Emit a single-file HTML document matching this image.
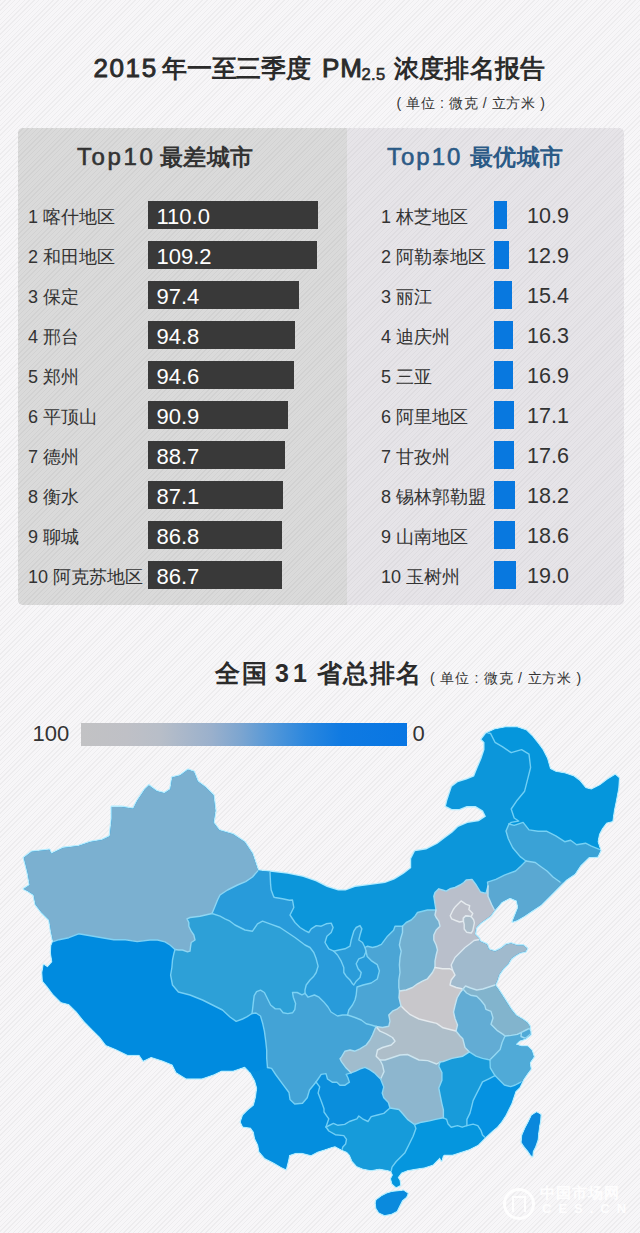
<!DOCTYPE html>
<html><head><meta charset="utf-8">
<style>
*{margin:0;padding:0;box-sizing:border-box}
html,body{width:640px;height:1233px;overflow:hidden}
body{position:relative;font-family:"Liberation Sans",sans-serif;color:#333;
background-color:#f7f6f8;
background-image:repeating-linear-gradient(135deg,rgba(0,0,0,0.04) 0 1px,rgba(0,0,0,0) 1px 3.4px);}
.abs{position:absolute;white-space:nowrap}
.t1{font-size:26px;font-weight:bold;line-height:30px;color:#2b2b2b;top:53px}
#unit1{left:396.5px;top:94px;font-size:14px;line-height:18px;color:#333;letter-spacing:0.62px}
#panel{left:18px;top:128px;width:606px;height:477px;border-radius:5px;overflow:hidden;background-color:#e6e4e8;background-image:repeating-linear-gradient(135deg,rgba(0,0,0,0.035) 0 1px,rgba(0,0,0,0) 1px 3.4px)}
#pl{left:0;top:0;width:329px;height:477px;background-color:#dadada;background-image:repeating-linear-gradient(135deg,rgba(0,0,0,0.04) 0 1px,rgba(0,0,0,0) 1px 3.4px)}
.hd{font-size:24px;font-weight:bold;line-height:28px;top:142.5px}
.lab{font-size:18px;line-height:28px;color:#333;margin-top:2px}
.bar{height:28px;background:#393939}
.bv{font-size:22px;line-height:28px;color:#fff;padding-left:8.5px;margin-top:2px}
.bb{height:28px;background:#0878df}
.rv{font-size:21.5px;line-height:28px;color:#333;margin-top:0.5px}
.t2{top:659px;font-size:25px;font-weight:bold;line-height:28px;color:#2b2b2b}
#unit2{left:430px;top:669px;font-size:14px;line-height:18px;color:#333;letter-spacing:0.8px}
#grad{left:81px;top:722.5px;width:326px;height:23px;background:linear-gradient(to right,#c2c2c4 0%,#bfc0c6 14%,#b8bec8 24%,#9ab0cc 40%,#7ca5d0 49%,#5598d8 58%,#2b87de 69%,#0f7ae2 80%,#0876e3 100%)}
.lg{font-size:22px;line-height:24px;color:#333}
.c{display:inline-block;text-align:left;letter-spacing:0}
</style></head><body>
<div class="abs t1" style="left:93.5px;letter-spacing:1.6px;font-weight:normal;-webkit-text-stroke:0.9px #2b2b2b">2015</div>
<div class="abs t1" style="left:162px;font-size:25px;letter-spacing:-0.2px"><span class="c" style="width:calc(1em + -0.2px)">年</span><span class="c" style="width:calc(1em + -0.2px)">一</span><span class="c" style="width:calc(1em + -0.2px)">至</span><span class="c" style="width:calc(1em + -0.2px)">三</span><span class="c" style="width:calc(1em + -0.2px)">季</span><span class="c" style="width:calc(1em + -0.2px)">度</span></div>
<div class="abs t1" style="left:322px;letter-spacing:1px;font-weight:normal;-webkit-text-stroke:0.9px #2b2b2b">PM</div>
<div class="abs t1" style="left:361.5px;font-size:16.5px;top:59px;font-weight:normal;-webkit-text-stroke:0.6px #2b2b2b;letter-spacing:0.4px">2.5</div>
<div class="abs t1" style="left:394px;font-size:25px;letter-spacing:0.2px"><span class="c" style="width:calc(1em + 0.2px)">浓</span><span class="c" style="width:calc(1em + 0.2px)">度</span><span class="c" style="width:calc(1em + 0.2px)">排</span><span class="c" style="width:calc(1em + 0.2px)">名</span><span class="c" style="width:calc(1em + 0.2px)">报</span><span class="c" style="width:calc(1em + 0.2px)">告</span></div>
<div class="abs" id="unit1">( <span class="c" style="width:calc(1em + 0.62px)">单</span><span class="c" style="width:calc(1em + 0.62px)">位</span> : <span class="c" style="width:calc(1em + 0.62px)">微</span><span class="c" style="width:calc(1em + 0.62px)">克</span> / <span class="c" style="width:calc(1em + 0.62px)">立</span><span class="c" style="width:calc(1em + 0.62px)">方</span><span class="c" style="width:calc(1em + 0.62px)">米</span> )</div>

<div class="abs" id="panel">
  <div class="abs" id="pl"></div>
</div>

<div class="abs hd" style="left:77px;color:#333;letter-spacing:2.6px;font-weight:normal;-webkit-text-stroke:0.6px #333">Top10</div><div class="abs hd" style="left:160px;color:#333;font-size:23px;letter-spacing:0.3px"><span class="c" style="width:calc(1em + 0.3px)">最</span><span class="c" style="width:calc(1em + 0.3px)">差</span><span class="c" style="width:calc(1em + 0.3px)">城</span><span class="c" style="width:calc(1em + 0.3px)">市</span></div>
<div class="abs hd" style="left:387px;color:#2b5a86;letter-spacing:2px;font-weight:normal;-webkit-text-stroke:0.6px #2b5a86">Top10</div><div class="abs hd" style="left:470px;color:#2b5a86;font-size:23px;letter-spacing:0.3px"><span class="c" style="width:calc(1em + 0.3px)">最</span><span class="c" style="width:calc(1em + 0.3px)">优</span><span class="c" style="width:calc(1em + 0.3px)">城</span><span class="c" style="width:calc(1em + 0.3px)">市</span></div>

<!--ROWS-->
<div class="abs lab" style="left:28px;top:201.0px">1 <span class="c" style="width:1em">喀</span><span class="c" style="width:1em">什</span><span class="c" style="width:1em">地</span><span class="c" style="width:1em">区</span></div>
<div class="abs bar" style="left:148px;top:201.0px;width:169.9px"><div class="bv">110.0</div></div>
<div class="abs lab" style="left:381px;top:201.0px">1 <span class="c" style="width:1em">林</span><span class="c" style="width:1em">芝</span><span class="c" style="width:1em">地</span><span class="c" style="width:1em">区</span></div>
<div class="abs bb" style="left:494px;top:201.0px;width:12.5px"></div>
<div class="abs rv" style="left:527px;top:201.0px">10.9</div>
<div class="abs lab" style="left:28px;top:241.0px">2 <span class="c" style="width:1em">和</span><span class="c" style="width:1em">田</span><span class="c" style="width:1em">地</span><span class="c" style="width:1em">区</span></div>
<div class="abs bar" style="left:148px;top:241.0px;width:168.7px"><div class="bv">109.2</div></div>
<div class="abs lab" style="left:381px;top:241.0px">2 <span class="c" style="width:1em">阿</span><span class="c" style="width:1em">勒</span><span class="c" style="width:1em">泰</span><span class="c" style="width:1em">地</span><span class="c" style="width:1em">区</span></div>
<div class="abs bb" style="left:494px;top:241.0px;width:14.8px"></div>
<div class="abs rv" style="left:527px;top:241.0px">12.9</div>
<div class="abs lab" style="left:28px;top:281.0px">3 <span class="c" style="width:1em">保</span><span class="c" style="width:1em">定</span></div>
<div class="abs bar" style="left:148px;top:281.0px;width:150.5px"><div class="bv">97.4</div></div>
<div class="abs lab" style="left:381px;top:281.0px">3 <span class="c" style="width:1em">丽</span><span class="c" style="width:1em">江</span></div>
<div class="abs bb" style="left:494px;top:281.0px;width:17.7px"></div>
<div class="abs rv" style="left:527px;top:281.0px">15.4</div>
<div class="abs lab" style="left:28px;top:321.0px">4 <span class="c" style="width:1em">邢</span><span class="c" style="width:1em">台</span></div>
<div class="abs bar" style="left:148px;top:321.0px;width:146.5px"><div class="bv">94.8</div></div>
<div class="abs lab" style="left:381px;top:321.0px">4 <span class="c" style="width:1em">迪</span><span class="c" style="width:1em">庆</span><span class="c" style="width:1em">州</span></div>
<div class="abs bb" style="left:494px;top:321.0px;width:18.7px"></div>
<div class="abs rv" style="left:527px;top:321.0px">16.3</div>
<div class="abs lab" style="left:28px;top:361.0px">5 <span class="c" style="width:1em">郑</span><span class="c" style="width:1em">州</span></div>
<div class="abs bar" style="left:148px;top:361.0px;width:146.2px"><div class="bv">94.6</div></div>
<div class="abs lab" style="left:381px;top:361.0px">5 <span class="c" style="width:1em">三</span><span class="c" style="width:1em">亚</span></div>
<div class="abs bb" style="left:494px;top:361.0px;width:19.4px"></div>
<div class="abs rv" style="left:527px;top:361.0px">16.9</div>
<div class="abs lab" style="left:28px;top:401.0px">6 <span class="c" style="width:1em">平</span><span class="c" style="width:1em">顶</span><span class="c" style="width:1em">山</span></div>
<div class="abs bar" style="left:148px;top:401.0px;width:140.4px"><div class="bv">90.9</div></div>
<div class="abs lab" style="left:381px;top:401.0px">6 <span class="c" style="width:1em">阿</span><span class="c" style="width:1em">里</span><span class="c" style="width:1em">地</span><span class="c" style="width:1em">区</span></div>
<div class="abs bb" style="left:494px;top:401.0px;width:19.7px"></div>
<div class="abs rv" style="left:527px;top:401.0px">17.1</div>
<div class="abs lab" style="left:28px;top:441.0px">7 <span class="c" style="width:1em">德</span><span class="c" style="width:1em">州</span></div>
<div class="abs bar" style="left:148px;top:441.0px;width:137.0px"><div class="bv">88.7</div></div>
<div class="abs lab" style="left:381px;top:441.0px">7 <span class="c" style="width:1em">甘</span><span class="c" style="width:1em">孜</span><span class="c" style="width:1em">州</span></div>
<div class="abs bb" style="left:494px;top:441.0px;width:20.2px"></div>
<div class="abs rv" style="left:527px;top:441.0px">17.6</div>
<div class="abs lab" style="left:28px;top:481.0px">8 <span class="c" style="width:1em">衡</span><span class="c" style="width:1em">水</span></div>
<div class="abs bar" style="left:148px;top:481.0px;width:134.6px"><div class="bv">87.1</div></div>
<div class="abs lab" style="left:381px;top:481.0px">8 <span class="c" style="width:1em">锡</span><span class="c" style="width:1em">林</span><span class="c" style="width:1em">郭</span><span class="c" style="width:1em">勒</span><span class="c" style="width:1em">盟</span></div>
<div class="abs bb" style="left:494px;top:481.0px;width:20.9px"></div>
<div class="abs rv" style="left:527px;top:481.0px">18.2</div>
<div class="abs lab" style="left:28px;top:521.0px">9 <span class="c" style="width:1em">聊</span><span class="c" style="width:1em">城</span></div>
<div class="abs bar" style="left:148px;top:521.0px;width:134.1px"><div class="bv">86.8</div></div>
<div class="abs lab" style="left:381px;top:521.0px">9 <span class="c" style="width:1em">山</span><span class="c" style="width:1em">南</span><span class="c" style="width:1em">地</span><span class="c" style="width:1em">区</span></div>
<div class="abs bb" style="left:494px;top:521.0px;width:21.4px"></div>
<div class="abs rv" style="left:527px;top:521.0px">18.6</div>
<div class="abs lab" style="left:28px;top:561.0px">10 <span class="c" style="width:1em">阿</span><span class="c" style="width:1em">克</span><span class="c" style="width:1em">苏</span><span class="c" style="width:1em">地</span><span class="c" style="width:1em">区</span></div>
<div class="abs bar" style="left:148px;top:561.0px;width:134.0px"><div class="bv">86.7</div></div>
<div class="abs lab" style="left:381px;top:561.0px">10 <span class="c" style="width:1em">玉</span><span class="c" style="width:1em">树</span><span class="c" style="width:1em">州</span></div>
<div class="abs bb" style="left:494px;top:561.0px;width:21.8px"></div>
<div class="abs rv" style="left:527px;top:561.0px">19.0</div>
<!--/ROWS-->

<div class="abs t2" style="left:214.5px;letter-spacing:2px"><span class="c" style="width:calc(1em + 2.0px)">全</span><span class="c" style="width:calc(1em + 2.0px)">国</span></div><div class="abs t2" style="left:275px;letter-spacing:4px">31</div><div class="abs t2" style="left:316.5px;letter-spacing:1.6px"><span class="c" style="width:calc(1em + 1.6px)">省</span><span class="c" style="width:calc(1em + 1.6px)">总</span><span class="c" style="width:calc(1em + 1.6px)">排</span><span class="c" style="width:calc(1em + 1.6px)">名</span></div>
<div class="abs" id="unit2">( <span class="c" style="width:calc(1em + 0.8px)">单</span><span class="c" style="width:calc(1em + 0.8px)">位</span> : <span class="c" style="width:calc(1em + 0.8px)">微</span><span class="c" style="width:calc(1em + 0.8px)">克</span> / <span class="c" style="width:calc(1em + 0.8px)">立</span><span class="c" style="width:calc(1em + 0.8px)">方</span><span class="c" style="width:calc(1em + 0.8px)">米</span> )</div>
<div class="abs lg" style="left:32.5px;top:721.5px">100</div>
<div class="abs" id="grad"></div>
<div class="abs lg" style="left:412.5px;top:721.5px">0</div>

<svg class="abs" id="map" style="left:0;top:0" width="640" height="1233" viewBox="0 0 640 1233">
<defs><clipPath id="cn"><path d="M23.9,857.7 L31.7,851.8 L49.3,849.8 L51.2,853.8 L63.0,847.9 L78.6,846.0 L90.3,842.0 L102.0,840.0 L109.8,836.2 L111.8,818.6 L111.8,806.9 L121.6,806.9 L133.3,808.8 L137.2,801.0 L145.0,789.3 L148.9,785.4 L156.7,791.2 L164.5,793.2 L170.4,789.3 L172.3,777.6 L180.2,775.6 L188.0,769.8 L193.8,771.7 L197.7,781.5 L205.5,787.3 L213.4,795.2 L215.3,810.8 L213.4,822.5 L219.2,830.3 L232.9,834.2 L244.6,842.0 L252.4,853.8 L256.3,865.5 L258.0,870.6 L272.5,871.9 L287.5,873.8 L302.5,876.8 L315.6,881.2 L326.9,886.9 L338.1,890.6 L345.6,890.6 L355.0,886.9 L370.0,885.0 L385.0,883.1 L394.4,879.4 L403.8,873.8 L411.2,868.1 L411.2,858.8 L415.0,851.2 L426.2,849.4 L437.5,843.8 L445.0,838.1 L452.5,832.5 L458.1,826.9 L467.5,823.1 L478.8,821.2 L486.0,816.5 L483.0,810.6 L475.6,806.1 L466.7,806.1 L459.3,809.0 L451.9,809.0 L446.0,806.1 L447.4,800.2 L451.9,786.8 L457.8,782.3 L466.7,779.4 L474.1,776.4 L477.1,769.0 L481.6,758.6 L484.5,749.7 L484.5,742.3 L481.6,739.3 L486.0,733.4 L494.9,729.5 L505.3,727.4 L517.2,727.4 L526.1,730.4 L532.0,736.3 L538.0,743.8 L542.4,749.7 L546.9,758.6 L549.9,769.0 L555.8,772.0 L564.7,773.4 L573.6,776.4 L579.5,780.9 L585.5,788.3 L591.4,789.8 L600.3,785.3 L607.8,779.4 L615.2,774.9 L618.7,777.9 L618.1,788.3 L615.8,800.2 L613.7,810.6 L612.2,821.0 L606.3,822.4 L601.8,828.4 L598.8,834.3 L597.4,841.7 L600.3,850.6 L597.4,856.6 L588.8,856.9 L580.3,865.3 L574.7,873.8 L566.2,879.4 L557.8,887.8 L549.4,896.2 L540.9,904.7 L532.5,910.3 L524.0,915.9 L517.0,920.1 L512.8,921.5 L518.4,907.5 L517.0,900.5 L510.0,897.6 L501.6,901.9 L494.5,910.3 L490.3,916.0 L480.5,923.0 L476.2,927.2 L474.8,934.2 L479.0,938.4 L479.8,941.3 L486.9,944.4 L488.9,949.5 L495.0,951.5 L501.1,948.4 L506.2,944.4 L511.2,943.4 L517.3,945.4 L523.4,945.4 L527.1,948.4 L525.5,951.5 L520.4,952.5 L515.3,955.5 L511.2,958.6 L508.2,963.7 L503.1,968.8 L499.0,974.8 L497.0,980.9 L495.0,985.0 L498.0,989.0 L502.1,995.2 L507.2,1003.3 L511.2,1009.4 L516.0,1015.5 L522.0,1019.0 L527.0,1022.5 L529.5,1026.0 L530.5,1034.4 L525.5,1038.4 L519.4,1040.5 L515.3,1044.5 L521.4,1046.6 L527.5,1046.6 L531.6,1050.6 L533.6,1056.7 L529.5,1062.8 L530.5,1068.9 L527.5,1073.0 L523.4,1079.0 L519.4,1087.2 L515.3,1091.2 L513.3,1097.3 L511.2,1103.4 L508.2,1109.5 L505.2,1115.6 L501.1,1121.7 L497.0,1126.8 L493.0,1130.0 L486.2,1136.2 L477.8,1144.7 L469.4,1148.9 L460.9,1151.7 L452.5,1154.5 L444.0,1154.5 L442.6,1156.0 L441.5,1160.5 L440.0,1157.5 L439.8,1157.3 L432.8,1164.4 L424.4,1167.2 L415.9,1168.6 L407.5,1170.0 L401.2,1172.5 L397.5,1177.5 L399.4,1180.6 L400.0,1185.0 L396.2,1186.9 L392.5,1183.8 L391.2,1178.8 L393.1,1175.0 L391.2,1171.0 L387.8,1170.0 L379.4,1168.6 L370.9,1170.0 L363.0,1168.5 L356.9,1166.0 L352.5,1161.0 L350.0,1155.0 L347.0,1151.7 L341.6,1149.4 L335.0,1146.1 L330.6,1147.2 L324.0,1149.4 L317.5,1151.6 L311.0,1154.9 L302.2,1152.7 L295.6,1152.7 L289.0,1154.9 L288.0,1160.3 L285.8,1169.1 L281.4,1166.9 L273.8,1162.5 L265.0,1158.1 L259.5,1151.6 L258.4,1145.0 L255.2,1138.4 L254.0,1131.9 L250.8,1127.5 L243.1,1126.4 L240.9,1122.0 L243.1,1115.5 L247.5,1111.1 L254.0,1105.6 L256.2,1096.9 L257.3,1088.1 L255.2,1080.5 L250.8,1072.8 L244.8,1066.5 L233.1,1070.4 L221.4,1070.4 L213.6,1074.3 L201.9,1078.2 L186.2,1078.2 L176.5,1072.3 L172.6,1064.5 L162.8,1060.6 L151.1,1056.7 L143.3,1060.6 L139.4,1054.8 L127.7,1054.8 L115.9,1048.9 L106.2,1045.0 L100.3,1037.2 L92.5,1029.4 L84.7,1021.6 L76.9,1011.8 L69.0,1004.0 L61.2,1002.0 L53.4,994.2 L47.6,986.4 L43.0,981.0 L42.5,972.5 L43.8,965.0 L47.5,967.5 L52.5,962.0 L51.0,952.5 L51.5,945.4 L53.2,941.6 L51.2,931.9 L49.3,920.0 L41.5,912.3 L35.6,904.5 L33.7,894.8 L27.8,890.9 L23.9,888.9 L29.8,885.0 L27.8,873.3 L25.9,865.5Z M376.4,1200.2 L381.8,1196.2 L387.2,1193.5 L392.6,1192.1 L398.0,1191.5 L403.4,1190.8 L407.5,1193.5 L406.1,1196.9 L402.1,1200.2 L399.4,1205.6 L396.7,1211.0 L391.3,1213.7 L384.5,1215.1 L379.1,1212.4 L376.4,1208.3 L375.8,1202.9Z M536.6,1112.5 L540.5,1114.8 L540.1,1120.3 L538.9,1126.6 L538.1,1132.8 L537.3,1140.6 L535.0,1146.9 L532.7,1151.6 L532.3,1156.2 L530.7,1154.7 L528.0,1150.8 L524.1,1146.1 L521.7,1142.2 L522.5,1135.2 L525.6,1128.1 L528.8,1121.9 L531.9,1115.6Z"/></clipPath></defs>
<path d="M23.9,857.7 L31.7,851.8 L49.3,849.8 L51.2,853.8 L63.0,847.9 L78.6,846.0 L90.3,842.0 L102.0,840.0 L109.8,836.2 L111.8,818.6 L111.8,806.9 L121.6,806.9 L133.3,808.8 L137.2,801.0 L145.0,789.3 L148.9,785.4 L156.7,791.2 L164.5,793.2 L170.4,789.3 L172.3,777.6 L180.2,775.6 L188.0,769.8 L193.8,771.7 L197.7,781.5 L205.5,787.3 L213.4,795.2 L215.3,810.8 L213.4,822.5 L219.2,830.3 L232.9,834.2 L244.6,842.0 L252.4,853.8 L256.3,865.5 L258.0,870.6 L272.5,871.9 L287.5,873.8 L302.5,876.8 L315.6,881.2 L326.9,886.9 L338.1,890.6 L345.6,890.6 L355.0,886.9 L370.0,885.0 L385.0,883.1 L394.4,879.4 L403.8,873.8 L411.2,868.1 L411.2,858.8 L415.0,851.2 L426.2,849.4 L437.5,843.8 L445.0,838.1 L452.5,832.5 L458.1,826.9 L467.5,823.1 L478.8,821.2 L486.0,816.5 L483.0,810.6 L475.6,806.1 L466.7,806.1 L459.3,809.0 L451.9,809.0 L446.0,806.1 L447.4,800.2 L451.9,786.8 L457.8,782.3 L466.7,779.4 L474.1,776.4 L477.1,769.0 L481.6,758.6 L484.5,749.7 L484.5,742.3 L481.6,739.3 L486.0,733.4 L494.9,729.5 L505.3,727.4 L517.2,727.4 L526.1,730.4 L532.0,736.3 L538.0,743.8 L542.4,749.7 L546.9,758.6 L549.9,769.0 L555.8,772.0 L564.7,773.4 L573.6,776.4 L579.5,780.9 L585.5,788.3 L591.4,789.8 L600.3,785.3 L607.8,779.4 L615.2,774.9 L618.7,777.9 L618.1,788.3 L615.8,800.2 L613.7,810.6 L612.2,821.0 L606.3,822.4 L601.8,828.4 L598.8,834.3 L597.4,841.7 L600.3,850.6 L597.4,856.6 L588.8,856.9 L580.3,865.3 L574.7,873.8 L566.2,879.4 L557.8,887.8 L549.4,896.2 L540.9,904.7 L532.5,910.3 L524.0,915.9 L517.0,920.1 L512.8,921.5 L518.4,907.5 L517.0,900.5 L510.0,897.6 L501.6,901.9 L494.5,910.3 L490.3,916.0 L480.5,923.0 L476.2,927.2 L474.8,934.2 L479.0,938.4 L479.8,941.3 L486.9,944.4 L488.9,949.5 L495.0,951.5 L501.1,948.4 L506.2,944.4 L511.2,943.4 L517.3,945.4 L523.4,945.4 L527.1,948.4 L525.5,951.5 L520.4,952.5 L515.3,955.5 L511.2,958.6 L508.2,963.7 L503.1,968.8 L499.0,974.8 L497.0,980.9 L495.0,985.0 L498.0,989.0 L502.1,995.2 L507.2,1003.3 L511.2,1009.4 L516.0,1015.5 L522.0,1019.0 L527.0,1022.5 L529.5,1026.0 L530.5,1034.4 L525.5,1038.4 L519.4,1040.5 L515.3,1044.5 L521.4,1046.6 L527.5,1046.6 L531.6,1050.6 L533.6,1056.7 L529.5,1062.8 L530.5,1068.9 L527.5,1073.0 L523.4,1079.0 L519.4,1087.2 L515.3,1091.2 L513.3,1097.3 L511.2,1103.4 L508.2,1109.5 L505.2,1115.6 L501.1,1121.7 L497.0,1126.8 L493.0,1130.0 L486.2,1136.2 L477.8,1144.7 L469.4,1148.9 L460.9,1151.7 L452.5,1154.5 L444.0,1154.5 L442.6,1156.0 L441.5,1160.5 L440.0,1157.5 L439.8,1157.3 L432.8,1164.4 L424.4,1167.2 L415.9,1168.6 L407.5,1170.0 L401.2,1172.5 L397.5,1177.5 L399.4,1180.6 L400.0,1185.0 L396.2,1186.9 L392.5,1183.8 L391.2,1178.8 L393.1,1175.0 L391.2,1171.0 L387.8,1170.0 L379.4,1168.6 L370.9,1170.0 L363.0,1168.5 L356.9,1166.0 L352.5,1161.0 L350.0,1155.0 L347.0,1151.7 L341.6,1149.4 L335.0,1146.1 L330.6,1147.2 L324.0,1149.4 L317.5,1151.6 L311.0,1154.9 L302.2,1152.7 L295.6,1152.7 L289.0,1154.9 L288.0,1160.3 L285.8,1169.1 L281.4,1166.9 L273.8,1162.5 L265.0,1158.1 L259.5,1151.6 L258.4,1145.0 L255.2,1138.4 L254.0,1131.9 L250.8,1127.5 L243.1,1126.4 L240.9,1122.0 L243.1,1115.5 L247.5,1111.1 L254.0,1105.6 L256.2,1096.9 L257.3,1088.1 L255.2,1080.5 L250.8,1072.8 L244.8,1066.5 L233.1,1070.4 L221.4,1070.4 L213.6,1074.3 L201.9,1078.2 L186.2,1078.2 L176.5,1072.3 L172.6,1064.5 L162.8,1060.6 L151.1,1056.7 L143.3,1060.6 L139.4,1054.8 L127.7,1054.8 L115.9,1048.9 L106.2,1045.0 L100.3,1037.2 L92.5,1029.4 L84.7,1021.6 L76.9,1011.8 L69.0,1004.0 L61.2,1002.0 L53.4,994.2 L47.6,986.4 L43.0,981.0 L42.5,972.5 L43.8,965.0 L47.5,967.5 L52.5,962.0 L51.0,952.5 L51.5,945.4 L53.2,941.6 L51.2,931.9 L49.3,920.0 L41.5,912.3 L35.6,904.5 L33.7,894.8 L27.8,890.9 L23.9,888.9 L29.8,885.0 L27.8,873.3 L25.9,865.5Z M376.4,1200.2 L381.8,1196.2 L387.2,1193.5 L392.6,1192.1 L398.0,1191.5 L403.4,1190.8 L407.5,1193.5 L406.1,1196.9 L402.1,1200.2 L399.4,1205.6 L396.7,1211.0 L391.3,1213.7 L384.5,1215.1 L379.1,1212.4 L376.4,1208.3 L375.8,1202.9Z M536.6,1112.5 L540.5,1114.8 L540.1,1120.3 L538.9,1126.6 L538.1,1132.8 L537.3,1140.6 L535.0,1146.9 L532.7,1151.6 L532.3,1156.2 L530.7,1154.7 L528.0,1150.8 L524.1,1146.1 L521.7,1142.2 L522.5,1135.2 L525.6,1128.1 L528.8,1121.9 L531.9,1115.6Z" fill="none" stroke="#b4ecff" stroke-width="2.6" stroke-linejoin="round"/>
<g clip-path="url(#cn)"><rect x="0" y="700" width="640" height="533" fill="#0c96da"/>
<polygon points="0.0,941.6 0.0,700.0 258.0,700.0 258.0,870.6 252.5,877.0 245.6,881.6 237.5,885.0 227.5,890.0 220.0,895.0 217.5,900.0 215.0,906.2 212.0,913.5 200.0,916.2 190.0,917.5 186.9,918.8 188.8,922.5 188.8,926.2 191.2,931.2 193.8,935.0 195.0,940.0 191.2,942.5 190.6,946.2 190.0,951.2 187.5,951.9 182.5,950.0 178.8,950.0 175.0,949.5 170.0,945.0 165.0,941.9 157.5,940.0 150.0,940.0 137.2,941.6 125.5,939.7 113.8,939.7 102.0,937.7 90.3,935.8 78.6,933.8 68.8,937.7 59.0,939.7 53.2,941.6" fill="#7bb0d0"/>
<polygon points="53.2,941.6 59.0,939.7 68.8,937.7 78.6,933.8 90.3,935.8 102.0,937.7 113.8,939.7 125.5,939.7 137.2,941.6 150.0,940.0 157.5,940.0 165.0,941.9 170.0,945.0 175.0,949.5 173.8,953.8 172.5,960.0 171.9,967.5 170.6,975.0 172.5,985.0 178.4,992.0 190.0,995.0 202.5,1000.0 212.5,1005.0 222.5,1010.0 230.0,1017.0 236.2,1021.4 242.5,1019.0 247.2,1016.7 252.0,1013.5 256.0,1013.0 260.5,1016.0 262.8,1023.8 264.4,1031.2 265.9,1042.5 266.7,1050.3 266.7,1058.1 267.5,1067.5 262.0,1070.0 256.0,1072.0 250.0,1071.0 250.0,1090.0 0.0,1090.0 0.0,941.6" fill="#008bdf"/>
<polygon points="175.0,949.5 178.8,950.0 182.5,950.0 187.5,951.9 190.0,951.2 190.6,946.2 191.2,942.5 195.0,940.0 193.8,935.0 191.2,931.2 188.8,926.2 188.8,922.5 186.9,918.8 190.0,917.5 200.0,916.2 212.0,913.5 220.0,916.2 225.0,918.8 230.0,921.2 235.0,925.0 245.0,930.0 252.5,931.2 257.5,923.8 262.5,921.2 270.0,923.8 280.0,927.5 287.5,932.5 295.0,937.5 300.0,941.2 305.0,945.0 310.0,947.5 313.8,952.5 316.2,958.8 318.1,966.2 316.2,972.5 313.8,976.2 310.0,980.0 306.2,985.0 305.0,990.0 305.0,993.3 301.9,994.8 297.2,992.5 292.5,992.5 293.3,997.2 295.6,1003.4 294.8,1009.7 292.5,1012.8 287.8,1013.6 283.1,1012.8 280.0,1008.9 275.3,1008.9 270.6,1005.0 267.5,998.8 264.4,992.5 260.5,990.2 256.6,991.7 254.2,995.6 253.4,1001.9 252.7,1008.1 252.0,1013.5 247.2,1016.7 242.5,1019.0 236.2,1021.4 230.0,1017.0 222.5,1010.0 212.5,1005.0 202.5,1000.0 190.0,995.0 178.4,992.0 172.5,985.0 170.6,975.0 171.9,967.5 172.5,960.0 173.8,953.8 175.0,949.5" fill="#2da0d7"/>
<polygon points="258.0,870.6 258.0,860.0 270.0,860.0 270.0,872.0 270.6,884.7 271.2,890.0 273.8,897.0 275.0,897.5 282.5,898.8 289.4,900.3 292.5,900.0 293.8,907.5 290.0,915.0 295.0,922.5 300.0,927.5 305.0,930.6 308.8,932.5 311.2,928.8 316.2,925.6 321.2,926.2 326.2,923.8 331.2,923.1 333.1,927.5 331.2,932.5 326.9,936.2 325.0,942.5 328.8,948.8 333.8,951.2 337.5,955.0 341.2,961.2 343.8,967.5 343.8,972.5 346.2,976.2 350.0,980.0 352.5,983.8 353.8,985.0 356.2,981.2 360.0,977.5 361.2,972.5 358.1,968.8 356.2,963.8 358.8,958.8 363.8,956.9 365.6,952.5 366.0,951.0 367.2,956.6 371.2,960.6 377.3,964.7 379.4,970.8 377.3,979.0 371.2,983.0 363.1,985.0 357.0,987.0 356.2,995.0 355.0,1000.0 352.5,1005.0 348.8,1010.0 347.5,1015.0 342.5,1015.0 337.5,1016.0 331.0,1012.0 328.0,1007.0 323.8,1001.9 319.0,997.2 314.4,995.0 308.1,997.2 305.0,993.3 305.0,990.0 306.2,985.0 310.0,980.0 313.8,976.2 316.2,972.5 318.1,966.2 316.2,958.8 313.8,952.5 310.0,947.5 305.0,945.0 300.0,941.2 295.0,937.5 287.5,932.5 280.0,927.5 270.0,923.8 262.5,921.2 257.5,923.8 252.5,931.2 245.0,930.0 235.0,925.0 230.0,921.2 225.0,918.8 220.0,916.2 212.0,913.5 215.0,906.2 217.5,900.0 220.0,895.0 227.5,890.0 237.5,885.0 245.6,881.6 252.5,877.0 258.0,870.6" fill="#289bda"/>
<polygon points="333.8,951.2 338.8,950.0 345.0,948.8 350.0,946.2 351.2,940.0 353.8,931.2 356.2,927.5 360.0,925.6 361.9,928.8 360.0,935.0 358.8,940.0 362.5,942.5 365.0,947.5 366.0,951.0 365.6,952.5 363.8,956.9 358.8,958.8 356.2,963.8 358.1,968.8 361.2,972.5 360.0,977.5 356.2,981.2 353.8,985.0 352.5,983.8 350.0,980.0 346.2,976.2 343.8,972.5 343.8,967.5 341.2,961.2 337.5,955.0 333.8,951.2" fill="#2a9cd9"/>
<polygon points="365.0,947.5 367.5,946.2 372.5,947.5 377.5,946.2 381.4,944.4 387.5,936.2 393.6,930.2 395.0,926.2 400.0,926.2 402.5,926.2 402.5,932.5 400.6,938.8 399.4,945.0 401.2,951.2 400.0,957.5 399.4,965.0 400.0,972.5 398.8,980.0 398.8,987.5 399.5,991.0 399.0,997.5 401.0,1006.0 397.5,1008.8 392.5,1011.2 388.8,1015.0 390.0,1021.2 388.8,1026.2 382.5,1027.5 376.0,1026.5 371.2,1025.0 366.2,1023.8 361.2,1020.0 355.0,1017.5 347.5,1015.0 348.8,1010.0 352.5,1005.0 355.0,1000.0 356.2,995.0 357.0,987.0 363.1,985.0 371.2,983.0 377.3,979.0 379.4,970.8 377.3,964.7 371.2,960.6 367.2,956.6 366.0,951.0 365.0,947.5" fill="#4ba5d5"/>
<polygon points="402.5,926.2 406.2,922.5 411.2,920.0 415.0,916.2 417.5,912.5 422.5,911.2 427.5,910.0 433.8,910.0 436.0,910.0 435.0,915.0 436.2,917.5 438.8,921.2 440.0,926.2 436.2,930.0 433.8,935.0 433.8,940.0 436.2,945.0 437.5,950.0 436.2,955.0 435.0,961.2 435.0,967.5 432.5,972.5 427.5,978.8 422.5,981.2 417.5,983.8 412.5,987.5 406.2,990.0 399.5,991.0 398.8,987.5 398.8,980.0 400.0,972.5 399.4,965.0 400.0,957.5 401.2,951.2 399.4,945.0 400.6,938.8 402.5,932.5 402.5,926.2" fill="#73b0d0"/>
<polygon points="436.0,910.0 435.0,903.8 433.8,896.2 435.0,892.5 438.8,888.8 442.5,890.0 446.2,891.2 450.0,888.8 455.0,887.5 460.0,885.0 463.8,882.5 466.2,880.0 472.0,879.4 476.2,885.0 480.5,892.0 486.0,893.4 488.0,886.0 488.0,896.2 491.7,904.7 494.5,910.3 500.0,912.0 492.0,925.0 484.0,933.0 483.0,938.0 479.5,939.5 474.0,940.5 470.0,943.8 465.0,947.5 460.0,952.5 455.0,957.5 451.2,965.0 452.5,970.0 450.0,968.8 442.5,968.8 435.0,967.5 435.0,961.2 436.2,955.0 437.5,950.0 436.2,945.0 433.8,940.0 433.8,935.0 436.2,930.0 440.0,926.2 438.8,921.2 436.2,917.5 435.0,915.0 436.0,910.0" fill="#b9bfcb"/>
<polygon points="461.1,900.9 465.8,904.1 469.7,905.6 468.9,909.5 472.8,913.4 471.2,916.6 465.8,915.8 463.4,918.1 463.4,921.2 459.5,922.0 455.6,920.5 451.7,918.9 450.2,915.8 451.7,912.7 453.3,909.5 455.6,906.4 458.8,903.3" fill="#bcc0ca"/>
<polygon points="465.8,915.8 471.2,916.6 473.6,919.7 474.4,922.8 473.6,926.7 472.8,930.6 471.2,933.0 466.6,932.2 464.2,929.0 464.2,924.4 463.4,921.2 463.4,918.1" fill="#a9bcc9"/>
<polygon points="488.0,886.0 487.5,882.2 495.9,879.4 504.4,875.2 515.6,871.0 521.0,866.0 526.0,861.0 535.3,862.5 541.0,866.7 547.0,871.0 553.0,877.0 560.0,882.0 580.0,880.0 560.0,930.0 510.0,930.0 500.0,912.0 494.5,910.3 491.7,904.7 488.0,896.2 488.0,886.0" fill="#5aa8d2"/>
<polygon points="509.0,824.0 514.2,825.4 523.1,822.4 529.0,829.9 538.0,831.3 546.9,831.3 555.8,835.8 564.7,841.7 570.6,840.2 576.6,844.7 585.5,843.2 591.4,846.2 598.8,849.2 603.0,850.6 612.0,862.0 575.0,885.0 560.0,882.0 553.0,877.0 547.0,871.0 541.0,866.7 535.3,862.5 526.0,861.0 520.2,856.6 512.7,847.7 508.3,838.8 506.0,831.0 509.0,824.0" fill="#3aa2d6"/>
<polygon points="488.0,733.0 490.5,733.4 495.0,742.3 502.3,746.7 511.2,752.7 521.6,749.7 529.0,754.1 530.6,767.5 527.6,779.4 524.6,791.2 517.2,800.2 511.2,809.0 514.2,818.0 518.7,821.0 511.2,822.4 509.0,824.0 514.2,825.4 523.1,822.4 529.0,829.9 538.0,831.3 546.9,831.3 555.8,835.8 564.7,841.7 570.6,840.2 576.6,844.7 585.5,843.2 591.4,846.2 598.8,849.2 603.0,850.6 640.0,850.0 640.0,700.0 488.0,700.0" fill="#0596dc"/>
<polygon points="399.5,991.0 406.2,990.0 412.5,987.5 417.5,983.8 422.5,981.2 427.5,978.8 432.5,972.5 435.0,967.5 442.5,968.8 450.0,968.8 452.5,970.0 455.0,975.0 451.2,980.0 450.0,985.0 456.2,987.5 463.0,989.0 460.5,992.0 457.0,998.0 455.0,1005.5 453.5,1012.0 455.0,1018.5 457.5,1025.0 456.0,1031.0 451.9,1030.0 443.1,1027.8 436.6,1023.4 427.8,1021.2 419.0,1019.0 410.3,1014.7 405.0,1010.0 401.0,1006.0 399.0,997.5 399.5,991.0" fill="#c8c7cb"/>
<polygon points="452.5,970.0 451.2,965.0 455.0,957.5 460.0,952.5 465.0,947.5 470.0,943.8 474.0,940.5 479.5,939.5 485.0,937.0 530.0,940.0 540.0,960.0 505.0,985.0 495.0,985.0 488.9,987.0 482.8,989.0 476.7,990.0 470.6,988.0 465.5,986.0 463.0,989.0 456.2,987.5 450.0,985.0 451.2,980.0 455.0,975.0 452.5,970.0" fill="#a0bacd"/>
<polygon points="463.0,989.0 465.5,986.0 470.6,988.0 476.7,990.0 482.8,989.0 488.9,987.0 495.0,985.0 505.0,985.0 545.0,1020.0 535.0,1027.0 529.5,1028.3 526.0,1030.0 521.4,1032.3 517.3,1034.4 511.2,1035.4 505.0,1036.0 503.1,1034.4 497.0,1030.3 491.0,1024.2 493.0,1018.0 491.0,1011.4 485.9,1009.4 484.8,1005.3 480.8,1000.2 476.7,996.2 470.6,995.2 466.6,993.0 463.0,989.0" fill="#82b4cd"/>
<polygon points="463.0,989.0 466.6,993.0 470.6,995.2 476.7,996.2 480.8,1000.2 484.8,1005.3 485.9,1009.4 491.0,1011.4 493.0,1018.0 491.0,1024.2 497.0,1030.3 503.1,1034.4 505.0,1036.0 502.1,1042.5 500.1,1049.6 495.0,1054.7 490.0,1059.8 488.0,1059.5 482.5,1058.4 476.0,1056.2 469.4,1051.9 465.0,1047.5 462.8,1038.8 460.0,1036.0 456.0,1031.0 457.5,1025.0 455.0,1018.5 453.5,1012.0 455.0,1005.5 457.0,998.0 460.5,992.0 463.0,989.0" fill="#62acd4"/>
<polygon points="521.4,1032.3 526.0,1030.0 529.5,1028.3 531.0,1031.0 530.5,1034.4 525.5,1038.4 521.0,1036.5" fill="#82b4cd"/>
<polygon points="505.0,1036.0 511.2,1035.4 517.3,1034.4 521.4,1032.3 526.0,1030.0 529.5,1028.3 545.0,1030.0 545.0,1080.0 521.0,1082.0 518.4,1083.4 515.3,1085.0 510.6,1086.6 504.4,1085.0 499.7,1080.3 495.0,1075.6 490.3,1067.8 490.0,1059.8 495.0,1054.7 500.1,1049.6 502.1,1042.5 505.0,1036.0" fill="#50aad7"/>
<polygon points="495.0,1075.6 499.7,1080.3 504.4,1085.0 510.6,1086.6 515.3,1085.0 518.4,1083.4 521.0,1082.0 540.0,1085.0 540.0,1140.0 490.0,1140.0 487.0,1137.0 485.6,1138.1 482.5,1135.0 480.9,1130.3 477.8,1125.6 473.1,1124.1 466.9,1125.6 466.9,1119.4 470.0,1113.1 471.6,1106.9 473.1,1100.6 476.2,1094.4 479.4,1088.1 482.5,1081.9 488.8,1078.8 495.0,1075.6" fill="#0592e1"/>
<polygon points="469.4,1051.9 476.0,1056.2 482.5,1058.4 488.0,1059.5 490.0,1059.8 490.3,1067.8 495.0,1075.6 488.8,1078.8 482.5,1081.9 479.4,1088.1 476.2,1094.4 473.1,1100.6 471.6,1106.9 470.0,1113.1 466.9,1119.4 466.9,1125.6 462.2,1127.2 457.5,1125.6 451.2,1127.2 448.1,1124.1 446.6,1119.4 443.4,1117.8 443.4,1110.0 441.9,1103.8 440.3,1095.9 438.8,1088.1 441.9,1080.3 441.9,1072.5 438.8,1066.2 440.0,1062.0 443.1,1061.5 451.9,1058.4 462.8,1056.2 469.4,1051.9" fill="#189bda"/>
<polygon points="376.0,1026.5 382.5,1027.5 388.8,1026.2 390.0,1021.2 388.8,1015.0 392.5,1011.2 397.5,1008.8 401.0,1006.0 405.0,1010.0 410.3,1014.7 419.0,1019.0 427.8,1021.2 436.6,1023.4 443.1,1027.8 451.9,1030.0 456.0,1031.0 460.0,1036.0 462.8,1038.8 465.0,1047.5 469.4,1051.9 462.8,1056.2 451.9,1058.4 443.1,1061.5 440.0,1062.0 436.6,1064.0 427.8,1060.6 419.0,1060.0 407.5,1054.5 400.0,1055.0 392.5,1057.5 385.0,1060.0 380.0,1060.0 376.2,1056.2 377.5,1050.0 382.5,1047.5 391.2,1045.0 395.0,1041.2 392.5,1037.5 386.2,1033.8 380.0,1031.2 376.0,1026.5" fill="#aebec9"/>
<polygon points="351.0,1072.8 346.2,1068.1 341.6,1061.9 340.0,1058.8 341.2,1057.5 345.0,1051.2 350.0,1050.0 355.0,1051.2 360.0,1048.8 366.2,1045.0 370.0,1040.0 372.5,1035.0 376.0,1026.5 380.0,1031.2 386.2,1033.8 392.5,1037.5 395.0,1041.2 391.2,1045.0 382.5,1047.5 377.5,1050.0 376.2,1056.2 380.0,1060.0 382.5,1065.0 384.0,1071.6 382.0,1076.0 380.6,1079.0 377.5,1075.9 374.4,1072.8 369.7,1069.7 365.0,1067.3 360.3,1068.9 355.6,1071.2 351.0,1072.8" fill="#a0bccd"/>
<polygon points="380.0,1060.0 385.0,1060.0 392.5,1057.5 400.0,1055.0 407.5,1054.5 419.0,1060.0 427.8,1060.6 436.6,1064.0 440.0,1062.0 438.8,1066.2 441.9,1072.5 441.9,1080.3 438.8,1088.1 440.3,1095.9 441.9,1103.8 443.4,1110.0 443.4,1117.8 435.6,1119.4 429.4,1120.9 421.6,1122.2 414.5,1124.5 407.5,1119.4 403.0,1114.0 399.0,1109.5 390.0,1108.0 388.4,1102.5 383.8,1097.8 382.2,1093.1 383.8,1086.9 380.6,1079.0 382.0,1076.0 384.0,1071.6 382.5,1065.0 380.0,1060.0" fill="#8db6ce"/>
<polygon points="252.0,1013.5 252.7,1008.1 253.4,1001.9 254.2,995.6 256.6,991.7 260.5,990.2 264.4,992.5 267.5,998.8 270.6,1005.0 275.3,1008.9 280.0,1008.9 283.1,1012.8 287.8,1013.6 292.5,1012.8 294.8,1009.7 295.6,1003.4 293.3,997.2 292.5,992.5 297.2,992.5 301.9,994.8 305.0,993.3 308.1,997.2 314.4,995.0 319.0,997.2 323.8,1001.9 328.0,1007.0 331.0,1012.0 337.5,1016.0 342.5,1015.0 347.5,1015.0 355.0,1017.5 361.2,1020.0 366.2,1023.8 371.2,1025.0 376.0,1026.5 372.5,1035.0 370.0,1040.0 366.2,1045.0 360.0,1048.8 355.0,1051.2 350.0,1050.0 345.0,1051.2 341.2,1057.5 340.0,1058.8 341.6,1061.9 346.2,1068.1 351.0,1072.8 346.2,1074.4 347.8,1077.5 349.4,1082.2 344.7,1085.3 340.0,1085.3 336.9,1082.2 332.2,1082.2 327.5,1079.0 326.0,1073.6 321.2,1074.4 318.1,1079.0 316.0,1082.0 313.4,1085.3 309.5,1090.0 307.2,1097.8 302.5,1103.3 294.7,1104.0 290.0,1099.4 289.0,1092.5 282.5,1083.8 276.0,1075.0 271.6,1068.4 267.5,1067.5 266.7,1058.1 266.7,1050.3 265.9,1042.5 264.4,1031.2 262.8,1023.8 260.5,1016.0 256.0,1013.0 252.0,1013.5" fill="#43a3d6"/>
<polygon points="316.0,1082.0 318.1,1079.0 321.2,1074.4 326.0,1073.6 327.5,1079.0 332.2,1082.2 336.9,1082.2 340.0,1085.3 344.7,1085.3 349.4,1082.2 347.8,1077.5 346.2,1074.4 351.0,1072.8 355.6,1071.2 360.3,1068.9 365.0,1067.3 369.7,1069.7 374.4,1072.8 377.5,1075.9 380.6,1079.0 383.8,1086.9 382.2,1093.1 383.8,1097.8 388.4,1102.5 390.0,1108.0 383.8,1113.4 377.5,1115.0 371.2,1116.6 368.0,1121.5 362.5,1118.8 358.8,1116.0 356.9,1118.8 349.4,1121.5 344.7,1124.4 338.0,1125.3 333.4,1123.4 326.0,1127.0 328.8,1118.8 324.0,1112.0 324.0,1108.8 321.2,1100.9 318.1,1093.1 319.7,1086.9 316.0,1082.0" fill="#0a8edc"/>
<polygon points="267.5,1067.5 271.6,1068.4 276.0,1075.0 282.5,1083.8 289.0,1092.5 290.0,1099.4 294.7,1104.0 302.5,1103.3 307.2,1097.8 309.5,1090.0 313.4,1085.3 316.0,1082.0 319.7,1086.9 318.1,1093.1 321.2,1100.9 324.0,1108.8 324.0,1112.0 328.8,1118.8 326.0,1127.0 328.8,1131.0 335.3,1134.7 343.8,1135.6 346.5,1139.4 345.6,1144.0 342.8,1147.0 342.0,1150.0 335.0,1200.0 230.0,1200.0 230.0,1075.0 250.0,1071.0 256.0,1072.0 262.0,1070.0 267.5,1067.5" fill="#048ede"/>
<polygon points="390.0,1108.0 399.0,1109.5 403.0,1114.0 407.5,1119.4 414.5,1124.5 415.9,1128.5 413.1,1136.2 408.9,1144.7 404.7,1153.1 396.2,1161.5 392.0,1167.2 391.0,1172.0 389.0,1175.0 389.0,1200.0 335.0,1200.0 342.0,1150.0 342.8,1147.0 345.6,1144.0 346.5,1139.4 343.8,1135.6 335.3,1134.7 328.8,1131.0 326.0,1127.0 333.4,1123.4 338.0,1125.3 344.7,1124.4 349.4,1121.5 356.9,1118.8 358.8,1116.0 362.5,1118.8 368.0,1121.5 371.2,1116.6 377.5,1115.0 383.8,1113.4 390.0,1108.0" fill="#169bda"/>
<polygon points="414.5,1124.5 421.6,1122.2 429.4,1120.9 435.6,1119.4 443.4,1117.8 446.6,1119.4 448.1,1124.1 451.2,1127.2 457.5,1125.6 462.2,1127.2 466.9,1125.6 473.1,1124.1 477.8,1125.6 480.9,1130.3 482.5,1135.0 485.6,1138.1 487.0,1137.0 495.0,1150.0 420.0,1196.0 389.0,1196.0 389.0,1175.0 391.0,1172.0 392.0,1167.2 396.2,1161.5 404.7,1153.1 408.9,1144.7 413.1,1136.2 415.9,1128.5 414.5,1124.5" fill="#0596de"/>
<polygon points="376.4,1200.2 381.8,1196.2 387.2,1193.5 392.6,1192.1 398.0,1191.5 403.4,1190.8 407.5,1193.5 406.1,1196.9 402.1,1200.2 399.4,1205.6 396.7,1211.0 391.3,1213.7 384.5,1215.1 379.1,1212.4 376.4,1208.3 375.8,1202.9" fill="#0a8add"/>
<polygon points="536.6,1112.5 540.5,1114.8 540.1,1120.3 538.9,1126.6 538.1,1132.8 537.3,1140.6 535.0,1146.9 532.7,1151.6 532.3,1156.2 530.7,1154.7 528.0,1150.8 524.1,1146.1 521.7,1142.2 522.5,1135.2 525.6,1128.1 528.8,1121.9 531.9,1115.6" fill="#0a88dc"/>
<path d="M53.2,941.6 L59.0,939.7 L68.8,937.7 L78.6,933.8 L90.3,935.8 L102.0,937.7 L113.8,939.7 L125.5,939.7 L137.2,941.6 L150.0,940.0 L157.5,940.0 L165.0,941.9 L170.0,945.0 L175.0,949.5" fill="none" stroke="#7fd1f4" stroke-width="1.4" stroke-linejoin="round" stroke-linecap="round"/>
<path d="M175.0,949.5 L178.8,950.0 L182.5,950.0 L187.5,951.9 L190.0,951.2 L190.6,946.2 L191.2,942.5 L195.0,940.0 L193.8,935.0 L191.2,931.2 L188.8,926.2 L188.8,922.5 L186.9,918.8 L190.0,917.5 L200.0,916.2 L212.0,913.5" fill="none" stroke="#90d6f2" stroke-width="1.4" stroke-linejoin="round" stroke-linecap="round"/>
<path d="M212.0,913.5 L215.0,906.2 L217.5,900.0 L220.0,895.0 L227.5,890.0 L237.5,885.0 L245.6,881.6 L252.5,877.0 L258.0,870.6" fill="none" stroke="#8dd5f3" stroke-width="1.4" stroke-linejoin="round" stroke-linecap="round"/>
<path d="M175.0,949.5 L173.8,953.8 L172.5,960.0 L171.9,967.5 L170.6,975.0 L172.5,985.0 L178.4,992.0 L190.0,995.0 L202.5,1000.0 L212.5,1005.0 L222.5,1010.0 L230.0,1017.0 L236.2,1021.4 L242.5,1019.0 L247.2,1016.7 L252.0,1013.5" fill="none" stroke="#74cff5" stroke-width="1.4" stroke-linejoin="round" stroke-linecap="round"/>
<path d="M252.0,1013.5 L252.7,1008.1 L253.4,1001.9 L254.2,995.6 L256.6,991.7 L260.5,990.2 L264.4,992.5 L267.5,998.8 L270.6,1005.0 L275.3,1008.9 L280.0,1008.9 L283.1,1012.8 L287.8,1013.6 L292.5,1012.8 L294.8,1009.7 L295.6,1003.4 L293.3,997.2 L292.5,992.5 L297.2,992.5 L301.9,994.8 L305.0,993.3" fill="none" stroke="#7dd2f4" stroke-width="1.4" stroke-linejoin="round" stroke-linecap="round"/>
<path d="M212.0,913.5 L220.0,916.2 L225.0,918.8 L230.0,921.2 L235.0,925.0 L245.0,930.0 L252.5,931.2 L257.5,923.8 L262.5,921.2 L270.0,923.8 L280.0,927.5 L287.5,932.5 L295.0,937.5 L300.0,941.2 L305.0,945.0 L310.0,947.5 L313.8,952.5 L316.2,958.8 L318.1,966.2 L316.2,972.5 L313.8,976.2 L310.0,980.0 L306.2,985.0 L305.0,990.0 L305.0,993.3" fill="none" stroke="#79d1f4" stroke-width="1.4" stroke-linejoin="round" stroke-linecap="round"/>
<path d="M252.0,1013.5 L256.0,1013.0 L260.5,1016.0 L262.8,1023.8 L264.4,1031.2 L265.9,1042.5 L266.7,1050.3 L266.7,1058.1 L267.5,1067.5" fill="none" stroke="#77cff5" stroke-width="1.4" stroke-linejoin="round" stroke-linecap="round"/>
<path d="M270.0,872.0 L270.6,884.7 L271.2,890.0 L273.8,897.0 L275.0,897.5 L282.5,898.8 L289.4,900.3 L292.5,900.0 L293.8,907.5 L290.0,915.0 L295.0,922.5 L300.0,927.5 L305.0,930.6 L308.8,932.5 L311.2,928.8 L316.2,925.6 L321.2,926.2 L326.2,923.8 L331.2,923.1 L333.1,927.5 L331.2,932.5 L326.9,936.2 L325.0,942.5 L328.8,948.8 L333.8,951.2" fill="none" stroke="#75d0f5" stroke-width="1.4" stroke-linejoin="round" stroke-linecap="round"/>
<path d="M333.8,951.2 L338.8,950.0 L345.0,948.8 L350.0,946.2 L351.2,940.0 L353.8,931.2 L356.2,927.5 L360.0,925.6 L361.9,928.8 L360.0,935.0 L358.8,940.0 L362.5,942.5 L365.0,947.5" fill="none" stroke="#75d0f4" stroke-width="1.4" stroke-linejoin="round" stroke-linecap="round"/>
<path d="M365.0,947.5 L366.0,951.0 M347.5,1015.0 L348.8,1010.0 L352.5,1005.0 L355.0,1000.0 L356.2,995.0 L357.0,987.0 L363.1,985.0 L371.2,983.0 L377.3,979.0 L379.4,970.8 L377.3,964.7 L371.2,960.6 L367.2,956.6 L366.0,951.0" fill="none" stroke="#7ed2f4" stroke-width="1.4" stroke-linejoin="round" stroke-linecap="round"/>
<path d="M333.8,951.2 L337.5,955.0 L341.2,961.2 L343.8,967.5 L343.8,972.5 L346.2,976.2 L350.0,980.0 L352.5,983.8 L353.8,985.0 M366.0,951.0 L365.6,952.5 L363.8,956.9 L358.8,958.8 L356.2,963.8 L358.1,968.8 L361.2,972.5 L360.0,977.5 L356.2,981.2 L353.8,985.0" fill="none" stroke="#79d0f4" stroke-width="1.4" stroke-linejoin="round" stroke-linecap="round"/>
<path d="M365.0,947.5 L367.5,946.2 L372.5,947.5 L377.5,946.2 L381.4,944.4 L387.5,936.2 L393.6,930.2 L395.0,926.2 L400.0,926.2 L402.5,926.2" fill="none" stroke="#7ad1f4" stroke-width="1.4" stroke-linejoin="round" stroke-linecap="round"/>
<path d="M402.5,926.2 L406.2,922.5 L411.2,920.0 L415.0,916.2 L417.5,912.5 L422.5,911.2 L427.5,910.0 L433.8,910.0 L436.0,910.0" fill="none" stroke="#7fd3f3" stroke-width="1.4" stroke-linejoin="round" stroke-linecap="round"/>
<path d="M436.0,910.0 L435.0,903.8 L433.8,896.2 L435.0,892.5 L438.8,888.8 L442.5,890.0 L446.2,891.2 L450.0,888.8 L455.0,887.5 L460.0,885.0 L463.8,882.5 L466.2,880.0 L472.0,879.4 L476.2,885.0 L480.5,892.0 L486.0,893.4 L488.0,886.0" fill="none" stroke="#9cd9f2" stroke-width="1.4" stroke-linejoin="round" stroke-linecap="round"/>
<path d="M488.0,886.0 L487.5,882.2 L495.9,879.4 L504.4,875.2 L515.6,871.0 L521.0,866.0 L526.0,861.0 M305.0,993.3 L308.1,997.2 L314.4,995.0 L319.0,997.2 L323.8,1001.9 L328.0,1007.0 L331.0,1012.0 L337.5,1016.0 L342.5,1015.0 L347.5,1015.0" fill="none" stroke="#7cd1f4" stroke-width="1.4" stroke-linejoin="round" stroke-linecap="round"/>
<path d="M526.0,861.0 L520.2,856.6 L512.7,847.7 L508.3,838.8 L506.0,831.0 L509.0,824.0" fill="none" stroke="#77d1f4" stroke-width="1.4" stroke-linejoin="round" stroke-linecap="round"/>
<path d="M488.0,733.0 L490.5,733.4 L495.0,742.3 L502.3,746.7 L511.2,752.7 L521.6,749.7 L529.0,754.1 L530.6,767.5 L527.6,779.4 L524.6,791.2 L517.2,800.2 L511.2,809.0 L514.2,818.0 L518.7,821.0 L511.2,822.4 L509.0,824.0" fill="none" stroke="#70cff5" stroke-width="1.4" stroke-linejoin="round" stroke-linecap="round"/>
<path d="M509.0,824.0 L514.2,825.4 L523.1,822.4 L529.0,829.9 L538.0,831.3 L546.9,831.3 L555.8,835.8 L564.7,841.7 L570.6,840.2 L576.6,844.7 L585.5,843.2 L591.4,846.2 L598.8,849.2 L603.0,850.6" fill="none" stroke="#76d1f4" stroke-width="1.4" stroke-linejoin="round" stroke-linecap="round"/>
<path d="M526.0,861.0 L535.3,862.5 L541.0,866.7 L547.0,871.0 L553.0,877.0 L560.0,882.0" fill="none" stroke="#88d4f3" stroke-width="1.4" stroke-linejoin="round" stroke-linecap="round"/>
<path d="M488.0,886.0 L488.0,896.2 L491.7,904.7 L494.5,910.3" fill="none" stroke="#bde0f0" stroke-width="1.4" stroke-linejoin="round" stroke-linecap="round"/>
<path d="M402.5,926.2 L402.5,932.5 L400.6,938.8 L399.4,945.0 L401.2,951.2 L400.0,957.5 L399.4,965.0 L400.0,972.5 L398.8,980.0 L398.8,987.5 L399.5,991.0" fill="none" stroke="#99d8f2" stroke-width="1.4" stroke-linejoin="round" stroke-linecap="round"/>
<path d="M399.5,991.0 L406.2,990.0 L412.5,987.5 L417.5,983.8 L422.5,981.2 L427.5,978.8 L432.5,972.5 L435.0,967.5 M380.0,1060.0 L385.0,1060.0 L392.5,1057.5 L400.0,1055.0 L407.5,1054.5 L419.0,1060.0 L427.8,1060.6 L436.6,1064.0 L440.0,1062.0" fill="none" stroke="#cee5ef" stroke-width="1.4" stroke-linejoin="round" stroke-linecap="round"/>
<path d="M436.0,910.0 L435.0,915.0 L436.2,917.5 L438.8,921.2 L440.0,926.2 L436.2,930.0 L433.8,935.0 L433.8,940.0 L436.2,945.0 L437.5,950.0 L436.2,955.0 L435.0,961.2 L435.0,967.5" fill="none" stroke="#c7e3f0" stroke-width="1.4" stroke-linejoin="round" stroke-linecap="round"/>
<path d="M435.0,967.5 L442.5,968.8 L450.0,968.8 L452.5,970.0" fill="none" stroke="#e6ebee" stroke-width="1.4" stroke-linejoin="round" stroke-linecap="round"/>
<path d="M452.5,970.0 L451.2,965.0 L455.0,957.5 L460.0,952.5 L465.0,947.5 L470.0,943.8 L474.0,940.5 L479.5,939.5" fill="none" stroke="#dbe7ef" stroke-width="1.4" stroke-linejoin="round" stroke-linecap="round"/>
<path d="M452.5,970.0 L455.0,975.0 L451.2,980.0 L450.0,985.0 L456.2,987.5 L463.0,989.0" fill="none" stroke="#e1e9ef" stroke-width="1.4" stroke-linejoin="round" stroke-linecap="round"/>
<path d="M463.0,989.0 L465.5,986.0 L470.6,988.0 L476.7,990.0 L482.8,989.0 L488.9,987.0 L495.0,985.0" fill="none" stroke="#c3e2f0" stroke-width="1.4" stroke-linejoin="round" stroke-linecap="round"/>
<path d="M463.0,989.0 L460.5,992.0 L457.0,998.0 L455.0,1005.5 L453.5,1012.0 L455.0,1018.5 L457.5,1025.0 L456.0,1031.0" fill="none" stroke="#c6e3f0" stroke-width="1.4" stroke-linejoin="round" stroke-linecap="round"/>
<path d="M463.0,989.0 L466.6,993.0 L470.6,995.2 L476.7,996.2 L480.8,1000.2 L484.8,1005.3 L485.9,1009.4 L491.0,1011.4 L493.0,1018.0 L491.0,1024.2 L497.0,1030.3 L503.1,1034.4 L505.0,1036.0" fill="none" stroke="#a9dcf1" stroke-width="1.4" stroke-linejoin="round" stroke-linecap="round"/>
<path d="M505.0,1036.0 L511.2,1035.4 L517.3,1034.4 L521.4,1032.3 L526.0,1030.0 L529.5,1028.3 M521.4,1032.3 L526.0,1030.0 L529.5,1028.3 L531.0,1031.0 L530.5,1034.4 L525.5,1038.4 L521.0,1036.5Z" fill="none" stroke="#a1dbf2" stroke-width="1.4" stroke-linejoin="round" stroke-linecap="round"/>
<path d="M505.0,1036.0 L502.1,1042.5 L500.1,1049.6 L495.0,1054.7 L490.0,1059.8" fill="none" stroke="#93d8f3" stroke-width="1.4" stroke-linejoin="round" stroke-linecap="round"/>
<path d="M490.0,1059.8 L490.3,1067.8 L495.0,1075.6" fill="none" stroke="#7cd2f4" stroke-width="1.4" stroke-linejoin="round" stroke-linecap="round"/>
<path d="M495.0,1075.6 L499.7,1080.3 L504.4,1085.0 L510.6,1086.6 L515.3,1085.0 L518.4,1083.4 L521.0,1082.0" fill="none" stroke="#79d1f5" stroke-width="1.4" stroke-linejoin="round" stroke-linecap="round"/>
<path d="M495.0,1075.6 L488.8,1078.8 L482.5,1081.9 L479.4,1088.1 L476.2,1094.4 L473.1,1100.6 L471.6,1106.9 L470.0,1113.1 L466.9,1119.4 L466.9,1125.6" fill="none" stroke="#72cff6" stroke-width="1.4" stroke-linejoin="round" stroke-linecap="round"/>
<path d="M466.9,1125.6 L462.2,1127.2 L457.5,1125.6 L451.2,1127.2 L448.1,1124.1 L446.6,1119.4 L443.4,1117.8" fill="none" stroke="#72d0f5" stroke-width="1.4" stroke-linejoin="round" stroke-linecap="round"/>
<path d="M466.9,1125.6 L473.1,1124.1 L477.8,1125.6 L480.9,1130.3 L482.5,1135.0 L485.6,1138.1 L487.0,1137.0" fill="none" stroke="#6fcef6" stroke-width="1.4" stroke-linejoin="round" stroke-linecap="round"/>
<path d="M440.0,1062.0 L438.8,1066.2 L441.9,1072.5 L441.9,1080.3 L438.8,1088.1 L440.3,1095.9 L441.9,1103.8 L443.4,1110.0 L443.4,1117.8 M390.0,1108.0 L399.0,1109.5 L403.0,1114.0 L407.5,1119.4 L414.5,1124.5" fill="none" stroke="#8ed6f3" stroke-width="1.4" stroke-linejoin="round" stroke-linecap="round"/>
<path d="M414.5,1124.5 L421.6,1122.2 L429.4,1120.9 L435.6,1119.4 L443.4,1117.8" fill="none" stroke="#86d4f3" stroke-width="1.4" stroke-linejoin="round" stroke-linecap="round"/>
<path d="M414.5,1124.5 L415.9,1128.5 L413.1,1136.2 L408.9,1144.7 L404.7,1153.1 L396.2,1161.5 L392.0,1167.2 L391.0,1172.0" fill="none" stroke="#71d0f5" stroke-width="1.4" stroke-linejoin="round" stroke-linecap="round"/>
<path d="M401.0,1006.0 L405.0,1010.0 L410.3,1014.7 L419.0,1019.0 L427.8,1021.2 L436.6,1023.4 L443.1,1027.8 L451.9,1030.0 L456.0,1031.0 M461.1,900.9 L465.8,904.1 L469.7,905.6 L468.9,909.5 L472.8,913.4 L471.2,916.6 L465.8,915.8 L463.4,918.1 L463.4,921.2 L459.5,922.0 L455.6,920.5 L451.7,918.9 L450.2,915.8 L451.7,912.7 L453.3,909.5 L455.6,906.4 L458.8,903.3Z" fill="none" stroke="#e5eaee" stroke-width="1.4" stroke-linejoin="round" stroke-linecap="round"/>
<path d="M376.0,1026.5 L382.5,1027.5 L388.8,1026.2 L390.0,1021.2 L388.8,1015.0 L392.5,1011.2 L397.5,1008.8 L401.0,1006.0" fill="none" stroke="#b2def0" stroke-width="1.4" stroke-linejoin="round" stroke-linecap="round"/>
<path d="M399.5,991.0 L399.0,997.5 L401.0,1006.0" fill="none" stroke="#bce1f1" stroke-width="1.4" stroke-linejoin="round" stroke-linecap="round"/>
<path d="M456.0,1031.0 L460.0,1036.0 L462.8,1038.8 L465.0,1047.5 L469.4,1051.9" fill="none" stroke="#bce1f0" stroke-width="1.4" stroke-linejoin="round" stroke-linecap="round"/>
<path d="M469.4,1051.9 L476.0,1056.2 L482.5,1058.4 L488.0,1059.5 L490.0,1059.8" fill="none" stroke="#7fd3f4" stroke-width="1.4" stroke-linejoin="round" stroke-linecap="round"/>
<path d="M469.4,1051.9 L462.8,1056.2 L451.9,1058.4 L443.1,1061.5 L440.0,1062.0" fill="none" stroke="#9cdaf2" stroke-width="1.4" stroke-linejoin="round" stroke-linecap="round"/>
<path d="M376.0,1026.5 L380.0,1031.2 L386.2,1033.8 L392.5,1037.5 L395.0,1041.2 L391.2,1045.0 L382.5,1047.5 L377.5,1050.0 L376.2,1056.2 L380.0,1060.0" fill="none" stroke="#d7e7ef" stroke-width="1.4" stroke-linejoin="round" stroke-linecap="round"/>
<path d="M380.0,1060.0 L382.5,1065.0 L384.0,1071.6 L382.0,1076.0 L380.6,1079.0" fill="none" stroke="#c8e4f0" stroke-width="1.4" stroke-linejoin="round" stroke-linecap="round"/>
<path d="M351.0,1072.8 L355.6,1071.2 L360.3,1068.9 L365.0,1067.3 L369.7,1069.7 L374.4,1072.8 L377.5,1075.9 L380.6,1079.0" fill="none" stroke="#90d6f3" stroke-width="1.4" stroke-linejoin="round" stroke-linecap="round"/>
<path d="M380.6,1079.0 L383.8,1086.9 L382.2,1093.1 L383.8,1097.8 L388.4,1102.5 L390.0,1108.0" fill="none" stroke="#89d4f3" stroke-width="1.4" stroke-linejoin="round" stroke-linecap="round"/>
<path d="M390.0,1108.0 L383.8,1113.4 L377.5,1115.0 L371.2,1116.6 L368.0,1121.5 L362.5,1118.8 L358.8,1116.0 L356.9,1118.8 L349.4,1121.5 L344.7,1124.4 L338.0,1125.3 L333.4,1123.4 L326.0,1127.0" fill="none" stroke="#72cef5" stroke-width="1.4" stroke-linejoin="round" stroke-linecap="round"/>
<path d="M326.0,1127.0 L328.8,1131.0 L335.3,1134.7 L343.8,1135.6 L346.5,1139.4 L345.6,1144.0 L342.8,1147.0 L342.0,1150.0" fill="none" stroke="#71cef5" stroke-width="1.4" stroke-linejoin="round" stroke-linecap="round"/>
<path d="M316.0,1082.0 L319.7,1086.9 L318.1,1093.1 L321.2,1100.9 L324.0,1108.8 L324.0,1112.0 L328.8,1118.8 L326.0,1127.0" fill="none" stroke="#6fcdf5" stroke-width="1.4" stroke-linejoin="round" stroke-linecap="round"/>
<path d="M316.0,1082.0 L318.1,1079.0 L321.2,1074.4 L326.0,1073.6 L327.5,1079.0 L332.2,1082.2 L336.9,1082.2 L340.0,1085.3 L344.7,1085.3 L349.4,1082.2 L347.8,1077.5 L346.2,1074.4 L351.0,1072.8" fill="none" stroke="#78d0f4" stroke-width="1.4" stroke-linejoin="round" stroke-linecap="round"/>
<path d="M267.5,1067.5 L271.6,1068.4 L276.0,1075.0 L282.5,1083.8 L289.0,1092.5 L290.0,1099.4 L294.7,1104.0 L302.5,1103.3 L307.2,1097.8 L309.5,1090.0 L313.4,1085.3 L316.0,1082.0" fill="none" stroke="#77d0f5" stroke-width="1.4" stroke-linejoin="round" stroke-linecap="round"/>
<path d="M351.0,1072.8 L346.2,1068.1 L341.6,1061.9 L340.0,1058.8 L341.2,1057.5 L345.0,1051.2 L350.0,1050.0 L355.0,1051.2 L360.0,1048.8 L366.2,1045.0 L370.0,1040.0 L372.5,1035.0 L376.0,1026.5" fill="none" stroke="#a8dcf1" stroke-width="1.4" stroke-linejoin="round" stroke-linecap="round"/>
<path d="M347.5,1015.0 L355.0,1017.5 L361.2,1020.0 L366.2,1023.8 L371.2,1025.0 L376.0,1026.5" fill="none" stroke="#85d4f3" stroke-width="1.4" stroke-linejoin="round" stroke-linecap="round"/>
<path d="M465.8,915.8 L471.2,916.6 L473.6,919.7 L474.4,922.8 L473.6,926.7 L472.8,930.6 L471.2,933.0 L466.6,932.2 L464.2,929.0 L464.2,924.4 L463.4,921.2 L463.4,918.1Z" fill="none" stroke="#dfe8ee" stroke-width="1.4" stroke-linejoin="round" stroke-linecap="round"/>
</g>
</svg>
<div class="abs" style="left:503px;top:1188px;width:32px;height:32px;border:3px solid rgba(255,255,255,0.85);border-radius:50%"></div>
<div class="abs" style="left:512px;top:1196px;width:14px;height:16px;border:2px solid rgba(255,255,255,0.85);border-bottom:none"></div>
<div class="abs" style="left:540px;top:1184px;font-size:15px;line-height:18px;font-weight:bold;color:rgba(255,255,255,0.9);letter-spacing:1px">中国市场网</div>
<div class="abs" style="left:542px;top:1201px;font-size:13px;line-height:15px;font-weight:bold;color:rgba(255,255,255,0.9);letter-spacing:7px">CES.CN</div>
</body></html>
